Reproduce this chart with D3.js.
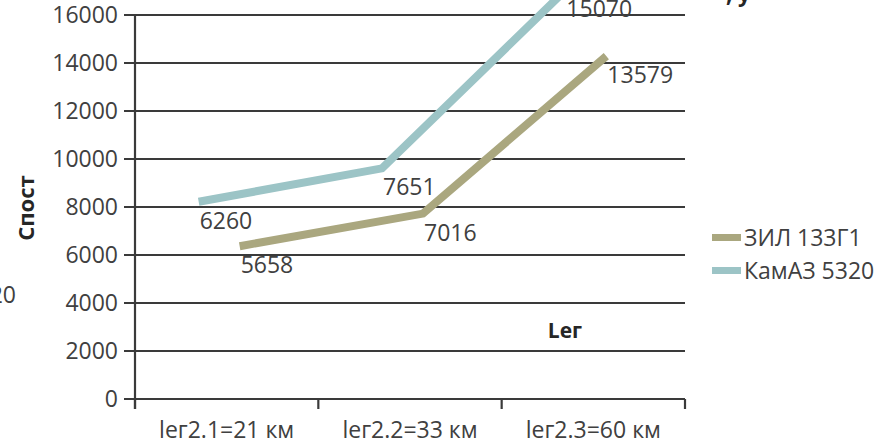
<!DOCTYPE html>
<html>
<head>
<meta charset="utf-8">
<script src="https://cdn.jsdelivr.net/npm/d3@7"></script>
<style>
    html, body { margin: 0; padding: 0; background: #fff; overflow: hidden; }
    svg text { font-family: "Open Sans", sans-serif; fill: #404040; }
</style>
</head>
<body>
<div id="chart"></div>
<script>
const categories = ['lег2.1=21 км', 'lег2.2=33 км', 'lег2.3=60 км'];
const seriesNames = ['ЗИЛ 133Г1', 'КамАЗ 5320'];
const zilValues = [5658, 7016, 13579];
const kamazValues = [6260, 7651, 15070];
const yTicks = [0, 2000, 4000, 6000, 8000, 10000, 12000, 14000, 16000];

const width = 888, height = 444;

// 3d-ish depth shift of each series ribbon, like the original excel chart
const series = [
    { name: seriesNames[0], values: zilValues, color: '#aaa77f', dx: 13, dy: -17 },
    { name: seriesNames[1], values: kamazValues, color: '#9cc4c6', dx: -28, dy: -47 }
];

const svg = d3.select('#chart').append('svg')
    .attr('width', width)
    .attr('height', height);

const x = d3.scaleBand()
    .domain(categories)
    .range([135, 685]);

const y = d3.scaleLinear()
    .domain([0, 16000])
    .range([399, 15]);

// gridlines
svg.append('g')
    .selectAll('line')
    .data(yTicks)
    .join('line')
        .attr('x1', 124)
        .attr('x2', 685)
        .attr('y1', d => y(d))
        .attr('y2', d => y(d))
        .attr('stroke', '#3a3a3a')
        .attr('stroke-width', 2.2);

// y axis
svg.append('line')
    .attr('x1', 135).attr('x2', 135)
    .attr('y1', y(16000)).attr('y2', 409)
    .attr('stroke', '#3a3a3a')
    .attr('stroke-width', 2.2);

svg.append('g')
    .selectAll('text')
    .data(yTicks)
    .join('text')
        .attr('x', 118)
        .attr('y', d => y(d))
        .attr('dy', '0.36em')
        .attr('text-anchor', 'end')
        .style('font-size', '23px')
        .text(d => d);

// x axis ticks
const xEdges = categories.map(c => x(c)).concat([x.range()[1]]);
svg.append('g')
    .selectAll('line')
    .data(xEdges)
    .join('line')
        .attr('x1', d => d).attr('x2', d => d)
        .attr('y1', 399).attr('y2', 409)
        .attr('stroke', '#3a3a3a')
        .attr('stroke-width', 2.2);

svg.append('g')
    .selectAll('text')
    .data(categories)
    .join('text')
        .attr('x', d => x(d) + x.bandwidth() / 2)
        .attr('y', 438)
        .attr('text-anchor', 'middle')
        .style('font-size', '23px')
        .text(d => d);

// series ribbons
const line = d3.line()
    .x((d, i) => x(categories[i]) + x.bandwidth() / 2)
    .y(d => y(d));

series.forEach(s => {
    const g = svg.append('g')
        .attr('transform', 'translate(' + s.dx + ',' + s.dy + ')');

    g.append('path')
        .datum(s.values)
        .attr('d', line)
        .attr('fill', 'none')
        .attr('stroke', s.color)
        .attr('stroke-width', 8)
        .attr('stroke-linejoin', 'miter');

    g.selectAll('text')
        .data(s.values)
        .join('text')
            .attr('x', (d, i) => x(categories[i]) + x.bandwidth() / 2 + 1)
            .attr('y', d => y(d) + 27)
            .style('font-size', '23px')
            .text(d => d);
});

// legend
const legend = svg.append('g');
series.forEach((s, i) => {
    legend.append('rect')
        .attr('x', 712).attr('y', 234 + i * 33)
        .attr('width', 29).attr('height', 7)
        .attr('fill', s.color);
    legend.append('text')
        .attr('x', 744).attr('y', 238 + i * 33)
        .attr('dy', '0.36em')
        .style('font-size', '23px')
        .text(s.name);
});

// axis titles
svg.append('text')
    .attr('transform', 'translate(34,208) rotate(-90)')
    .attr('text-anchor', 'middle')
    .style('font-size', '22px')
    .style('font-weight', 'bold')
    .style('fill', '#262626')
    .text('Спост');

svg.append('text')
    .attr('x', 565).attr('y', 338)
    .attr('text-anchor', 'middle')
    .style('font-size', '21px')
    .style('font-weight', 'bold')
    .style('fill', '#262626')
    .text('Lег');

// clipped bits of neighbouring text
svg.append('text')
    .attr('x', 16).attr('y', 303)
    .attr('text-anchor', 'end')
    .style('font-size', '23px')
    .text('20');

svg.append('text')
    .attr('x', 726).attr('y', 2)
    .style('font-size', '22px')
    .style('font-weight', 'bold')
    .style('fill', '#262626')
    .text(',  у');
</script>
</body>
</html>
